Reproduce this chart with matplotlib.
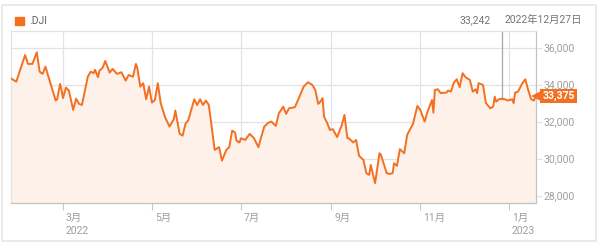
import numpy as np
import pandas as pd
import matplotlib
matplotlib.use("Agg")
import matplotlib.pyplot as plt
import matplotlib.patches as mpatches

plt.rcParams["font.family"] = ["Roboto", "Noto Sans CJK JP", "DejaVu Sans"]

# DJI daily close (day = days since 2022-01-01)
day = [23, 27, 30, 33, 35, 38, 41, 43, 45, 47, 49, 54, 55, 57, 58, 59, 61, 63,
       66, 68, 70, 72, 76, 78, 80, 81, 83, 84, 86, 88, 91, 93, 96, 99, 102, 104,
       107, 109, 110, 112, 114, 116, 118, 120, 122, 124, 126, 129, 132, 135, 136,
       139, 141, 143, 145, 149, 151, 153, 155, 157, 159, 163, 166, 168, 171, 173,
       175, 177, 178, 180, 181, 184, 187, 190, 193, 195, 197, 200, 202, 203, 205,
       207, 210, 212, 214, 218, 221, 224, 227, 230, 232, 234, 235, 237, 238, 240,
       242, 244, 247, 249, 250, 252, 254, 255, 258, 260, 262, 265, 267, 269, 270,
       273, 276, 277, 279, 281, 283, 285, 286, 288, 290, 293, 295, 299, 302, 304,
       307, 309, 312, 313, 314, 316, 318, 322, 323, 325, 327, 329, 331, 333, 335,
       338, 340, 342, 343, 344, 347, 349, 352, 354, 355, 356, 358, 360, 362, 364,
       367, 368, 369, 371, 374, 376, 378, 380, 382, 383]
close = [34350, 34160, 34890, 35600, 35120, 35120, 35750, 34700, 34580, 34970,
         34430, 33140, 33210, 34040, 33710, 33270, 33840, 33680, 32630, 33240,
         32960, 32900, 34430, 34700, 34620, 34800, 34400, 34760, 34890, 35280,
         34650, 34850, 34580, 34670, 34220, 34520, 34430, 35120, 34890, 33890,
         34080, 33210, 33890, 33030, 33170, 34080, 33000, 32240, 31730, 32130,
         32600, 31340, 31240, 31880, 32090, 33210, 32900, 33210, 32900, 33140,
         32900, 30470, 30620, 29890, 30470, 30620, 31510, 31410, 30970, 30870,
         31100, 31010, 31340, 31100, 30620, 31190, 31730, 31950, 32000, 31910,
         31770, 32450, 32810, 32420, 32720, 32780, 33320, 33890, 34130, 33980,
         33710, 32960, 33030, 33270, 32270, 31950, 31550, 31590, 31160, 31590,
         31770, 32360, 31100, 31100, 30870, 31010, 30150, 29930, 29210, 29120,
         29660, 28670, 30290, 30200, 29710, 29210, 29170, 29210, 29750, 29610,
         30510, 30290, 31280, 31880, 32850, 32630, 32000, 32540, 33170, 32490,
         33710, 33750, 33540, 33570, 33680, 33620, 34110, 34290, 33860, 34620,
         34400, 34250, 33620, 33750, 33540, 34080, 33980, 33000, 32720, 32810,
         33350, 33080, 33210, 33242, 33210, 33140, 33210, 33000, 33570, 33620,
         34080, 34290, 33710, 33210, 33140, 33375]

symbol = ".DJI"
hover_date = "2022-12-27"
hover_value = 33242
month_ticks = ["2022-03-01", "2022-05-01", "2022-07-01", "2022-09-01",
               "2022-11-01", "2023-01-01"]
month_labels = ["3月\n2022", "5月", "7月", "9月", "11月", "1月\n2023"]
y_ticks = [28000, 30000, 32000, 34000, 36000]

ORANGE = "#f37021"
FILL = "#fdf1e9"
GRID = "#e3e3e3"
TXT = "#9e9e9e"

dates = pd.Timestamp("2022-01-01") + pd.to_timedelta(day, unit="D")
close = np.array(close)

fig = plt.figure(figsize=(6.03, 2.43), dpi=100)
fig.patches.append(mpatches.Rectangle((2 / 603, 2 / 243), 594 / 603, 236 / 243,
                                      transform=fig.transFigure, fill=False,
                                      edgecolor="#e6e6e6", linewidth=1.2))

ax = fig.add_axes([10.5 / 603, 1 - 203 / 243, 525 / 603, 172 / 243])
ax.set_axisbelow(True)
ax.fill_between(dates, 27000, close, color=FILL, zorder=1.5, linewidth=0)
ax.plot(dates, close, color=ORANGE, linewidth=1.4, zorder=3)

# hover crosshair
hd = pd.Timestamp(hover_date)
ax.plot([hd, hd], [hover_value, 36900], color="#a8a8a8", linewidth=0.9, zorder=2)

ax.set_xlim(dates[0], dates[-1])
ax.set_ylim(27600, 36900)

ax.set_xticks(pd.to_datetime(month_ticks))
ax.set_xticklabels(month_labels, ha="left", va="top", fontsize=7.5, color=TXT,
                   linespacing=1.35)
ax.tick_params(axis="x", length=5, color="#c8c8c8", pad=2)
for lbl in ax.get_xticklabels():
    lbl.set_transform(lbl.get_transform() +
                      matplotlib.transforms.ScaledTranslation(2 / 72, 0, fig.dpi_scale_trans))

ax.yaxis.tick_right()
ax.set_yticks(y_ticks)
ax.set_yticklabels([f"{v:,}" for v in y_ticks], fontsize=7.5, color=TXT)
ax.tick_params(axis="y", length=4, color=GRID, pad=1.5)
ax.grid(True, color=GRID, linewidth=0.9)

for side in ["top", "left"]:
    ax.spines[side].set_color(GRID)
for side in ["right", "bottom"]:
    ax.spines[side].set_color("#c4c4c4")
for s in ax.spines.values():
    s.set_linewidth(0.9)

# last value tag
yt = ax.get_yaxis_transform()
ax.plot([1.0], [close[-1]], marker="<", markersize=7, color=ORANGE,
        transform=yt, clip_on=False, zorder=5,
        markeredgewidth=0)
ax.annotate(f"{close[-1]:,}", xy=(1.0, close[-1]), xycoords=yt,
            xytext=(5, 0), textcoords="offset points", va="center", ha="left",
            fontsize=7.5, color="white", fontweight="bold", zorder=6,
            bbox=dict(boxstyle="square,pad=0.2", facecolor=ORANGE, edgecolor="none"))

# header
fig.patches.append(mpatches.Rectangle((15 / 603, 1 - 25 / 243), 9 / 603, 8 / 243,
                                      transform=fig.transFigure, color=ORANGE))
fig.text(29 / 603, 1 - 21 / 243, symbol, fontsize=7.5, color="#616161", va="center")
fig.text(491 / 603, 1 - 20 / 243, f"{hover_value:,}", fontsize=7.5, color="#757575",
         va="center", ha="right")
fig.text(582 / 603, 1 - 20 / 243, "2022年12月27日", fontsize=7.5, color="#757575",
         va="center", ha="right")

fig.savefig("out.png", dpi=100)
